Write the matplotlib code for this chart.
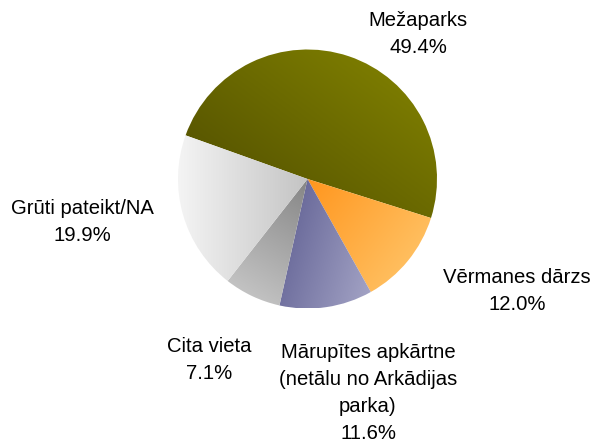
#!/usr/bin/env python
# coding: utf-8

import numpy as np
import matplotlib
matplotlib.use('Agg')
import matplotlib.pyplot as plt
from matplotlib.colors import LinearSegmentedColormap

plt.rcParams['font.family'] = ['Liberation Sans', 'DejaVu Sans']

# -------------------------- 数据 --------------------------
labels = ['Mežaparks', 'Vērmanes dārzs', 'Mārupītes apkārtne\n(netālu no Arkādijas\nparka)',
          'Cita vieta', 'Grūti pateikt/NA']
shares = [49.4, 12.0, 11.6, 7.1, 19.9]

# 渐变色 (起点色, 终点色, 方向)
grad_colors = [('#5a5800', '#7b7b00', (0.6, 0.8)),
               ('#ff961e', '#ffbe5e', (0.8, -0.6)),
               ('#6c6c9c', '#a2a2c4', (1.0, -0.3)),
               ('#c2c2c2', '#858585', (0.5, 0.8)),
               ('#f4f4f4', '#c4c4c4', (1.0, 0.0))]

# 标签位置 (像素坐标, 文本块中心)
label_pos = [(418, 34), (517, 291), (368, 393), (209, 360), (82, 222)]

W, H = 597, 445
center = (307.5, H - 179)
radius = 129.5

fig = plt.figure(figsize=(W / 100, H / 100), dpi=100)
ax = fig.add_axes([0, 0, 1, 1])

wedges, _ = ax.pie(shares, center=center, radius=radius, startangle=160.3,
                   counterclock=False, wedgeprops=dict(linewidth=0))

# 每块扇形用线性渐变填充
for w, (c0, c1, d) in zip(wedges, grad_colors):
    w.set_facecolor('none')
    x0, x1 = center[0] - radius, center[0] + radius
    y0, y1 = center[1] - radius, center[1] + radius
    xs = np.linspace(x0, x1, 300)
    ys = np.linspace(y0, y1, 300)
    X, Y = np.meshgrid(xs, ys)
    t = X * d[0] + Y * d[1]
    # 在扇形范围内归一化
    theta1, theta2 = np.deg2rad(w.theta1), np.deg2rad(w.theta2)
    angs = np.linspace(theta1, theta2, 50)
    px = np.concatenate([[center[0]], center[0] + radius * np.cos(angs)])
    py = np.concatenate([[center[1]], center[1] + radius * np.sin(angs)])
    pt = px * d[0] + py * d[1]
    t = np.clip((t - pt.min()) / (pt.max() - pt.min()), 0, 1)
    cmap = LinearSegmentedColormap.from_list('g', [c0, c1])
    im = ax.imshow(t, cmap=cmap, extent=(x0, x1, y0, y1), origin='lower',
                   interpolation='bilinear', zorder=1)
    im.set_clip_path(w)

for lab, val, (lx, ly) in zip(labels, shares, label_pos):
    ax.text(lx, H - ly, f'{lab}\n{val:.1f}%', ha='center', va='center',
            fontsize=14.6, linespacing=1.52, color='black')

ax.set_xlim(0, W)
ax.set_ylim(0, H)
ax.set_aspect('equal')
ax.axis('off')

plt.savefig('out.png', dpi=100)
plt.close(fig)
